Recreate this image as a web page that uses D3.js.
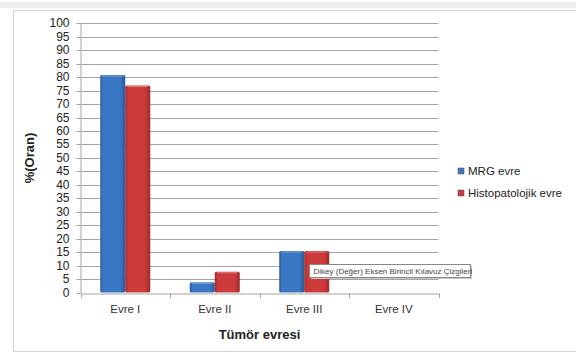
<!DOCTYPE html>
<html>
<head>
<meta charset="utf-8">
<script src="https://cdn.jsdelivr.net/npm/d3@7"></script>
<style>
  html, body { margin: 0; padding: 0; background: #fff; }
  svg { display: block; font-family: "Liberation Sans", Arial, sans-serif; }
</style>
</head>
<body>
<svg id="chart" width="576" height="354"></svg>
<script>
// Tumour stage distribution: MRI staging vs. histopathology
const categories = ["Evre I", "Evre II", "Evre III", "Evre IV"];
const seriesNames = ["MRG evre", "Histopatolojik evre"];
const mrgValues = [80.8, 3.8, 15.4, 0];
const histoValues = [76.9, 7.7, 15.4, 0];
const yTicks = d3.range(0, 101, 5);
const yTitle = "%(Oran)";
const xTitle = "Tümör evresi";
const tooltipText = "Dikey (Değer) Eksen Birincil Kılavuz Çizgileri";

const svg = d3.select("#chart");
const plot = { left: 80.5, right: 438.5, top: 23.3, bottom: 292.5 };

// window strip and chart frame
svg.append("rect").attr("x", 0).attr("y", 2).attr("width", 576).attr("height", 6).attr("fill", "#ececec");
svg.append("path")
  .attr("d", "M576,10.5 H13.5 V351.5 H576")
  .attr("fill", "none").attr("stroke", "#d4d4d4").attr("stroke-width", 1);

const x = d3.scaleBand().domain(categories).range([plot.left, plot.right]).paddingInner(0).paddingOuter(0);
const x1 = d3.scaleBand().domain(seriesNames).range([0, x.bandwidth()]).paddingOuter(0.79).paddingInner(0);
const y = d3.scaleLinear().domain([0, 100]).range([plot.bottom, plot.top]);

// gradients for the bevelled bars
const defs = svg.append("defs");
function grad(id, edge, mid) {
  const g = defs.append("linearGradient").attr("id", id).attr("x1", "0").attr("x2", "1").attr("y1", "0").attr("y2", "0");
  g.append("stop").attr("offset", "0").attr("stop-color", edge);
  g.append("stop").attr("offset", "0.12").attr("stop-color", mid);
  g.append("stop").attr("offset", "0.8").attr("stop-color", mid);
  g.append("stop").attr("offset", "1").attr("stop-color", edge);
}
grad("gBlue", "#2a5a9c", "#3a78c4");
grad("gRed", "#9c2a2a", "#cc3a3a");
const colors = { "MRG evre": "url(#gBlue)", "Histopatolojik evre": "url(#gRed)" };
const legendColors = { "MRG evre": "#3a78c4", "Histopatolojik evre": "#cc3a3a" };

// horizontal gridlines
svg.append("g").selectAll("line").data(yTicks.filter(d => d > 0)).join("line")
  .attr("x1", plot.left).attr("x2", plot.right)
  .attr("y1", d => Math.round(y(d)) + 0.5).attr("y2", d => Math.round(y(d)) + 0.5)
  .attr("stroke", "#a4a4a4").attr("stroke-width", 1);

// y axis
const yAxis = svg.append("g").attr("transform", `translate(${plot.left},0)`)
  .call(d3.axisLeft(y).tickValues(yTicks).tickSize(4).tickPadding(7).tickSizeOuter(0));
yAxis.select(".domain").attr("stroke", "#a4a4a4");
yAxis.selectAll(".tick line").attr("stroke", "#a4a4a4");
yAxis.selectAll(".tick").attr("transform", d => `translate(0,${Math.round(y(d)) + 0.5})`);
yAxis.selectAll("text").attr("font-size", 12).attr("fill", "#222").attr("font-family", "Liberation Sans, Arial, sans-serif");

// bars
const rows = categories.map((c, i) => ({ cat: c, vals: [
  { name: seriesNames[0], v: mrgValues[i] },
  { name: seriesNames[1], v: histoValues[i] }
]}));
const groups = svg.append("g").selectAll("g").data(rows).join("g")
  .attr("transform", d => `translate(${x(d.cat)},0)`);
groups.selectAll("rect").data(d => d.vals.filter(v => v.v > 0)).join("rect")
  .attr("x", d => x1(d.name))
  .attr("y", d => y(d.v))
  .attr("width", x1.bandwidth())
  .attr("height", d => y(0) - y(d.v))
  .attr("rx", 1.5)
  .attr("fill", d => colors[d.name]);
// highlight at the top of each bar
groups.selectAll("line.hl").data(d => d.vals.filter(v => v.v > 0)).join("line")
  .attr("class", "hl")
  .attr("x1", d => x1(d.name) + 2).attr("x2", d => x1(d.name) + x1.bandwidth() - 2)
  .attr("y1", d => y(d.v) + 1).attr("y2", d => y(d.v) + 1)
  .attr("stroke", "#ffffff").attr("stroke-opacity", 0.35).attr("stroke-width", 1);

// x axis
const xAxis = svg.append("g").attr("transform", `translate(0,${Math.round(plot.bottom) + 0.5})`)
  .call(d3.axisBottom(x).tickSize(0).tickPadding(11));
xAxis.select(".domain").attr("stroke", "#a4a4a4");
xAxis.selectAll("text").attr("font-size", 11.5).attr("fill", "#333").attr("font-family", "Liberation Sans, Arial, sans-serif");
svg.append("g").selectAll("line").data(d3.range(categories.length + 1)).join("line")
  .attr("x1", i => Math.round(plot.left + i * x.bandwidth()) + 0.5)
  .attr("x2", i => Math.round(plot.left + i * x.bandwidth()) + 0.5)
  .attr("y1", Math.round(plot.bottom) + 0.5).attr("y2", Math.round(plot.bottom) + 5)
  .attr("stroke", "#a4a4a4");

// axis titles
svg.append("text").attr("x", (plot.left + plot.right) / 2).attr("y", 339)
  .attr("text-anchor", "middle").attr("font-size", 13).attr("font-weight", "bold").attr("fill", "#222")
  .text(xTitle);
svg.append("text").attr("transform", "translate(34,158) rotate(-90)")
  .attr("text-anchor", "middle").attr("font-size", 13).attr("font-weight", "bold").attr("fill", "#222")
  .text(yTitle);

// legend
const legend = svg.append("g").selectAll("g").data(seriesNames).join("g")
  .attr("transform", (d, i) => `translate(458,${168 + i * 22})`);
legend.append("rect").attr("width", 6).attr("height", 6).attr("fill", d => legendColors[d])
  .attr("stroke", "#555").attr("stroke-width", 0.5);
legend.append("text").attr("x", 10).attr("y", 7).attr("font-size", 11.5).attr("fill", "#222").text(d => d);

// hover tooltip on the gridlines
const tip = svg.append("g").attr("transform", "translate(309.5,264.5)");
tip.append("rect").attr("x", 1.5).attr("y", 1.5).attr("width", 161).attr("height", 13).attr("fill", "#c8c8c8");
tip.append("rect").attr("width", 161).attr("height", 13).attr("fill", "#fff").attr("stroke", "#888").attr("stroke-width", 1);
tip.append("text").attr("x", 4).attr("y", 9.5).attr("font-size", 8).attr("fill", "#444").text(tooltipText);
</script>
</body>
</html>
